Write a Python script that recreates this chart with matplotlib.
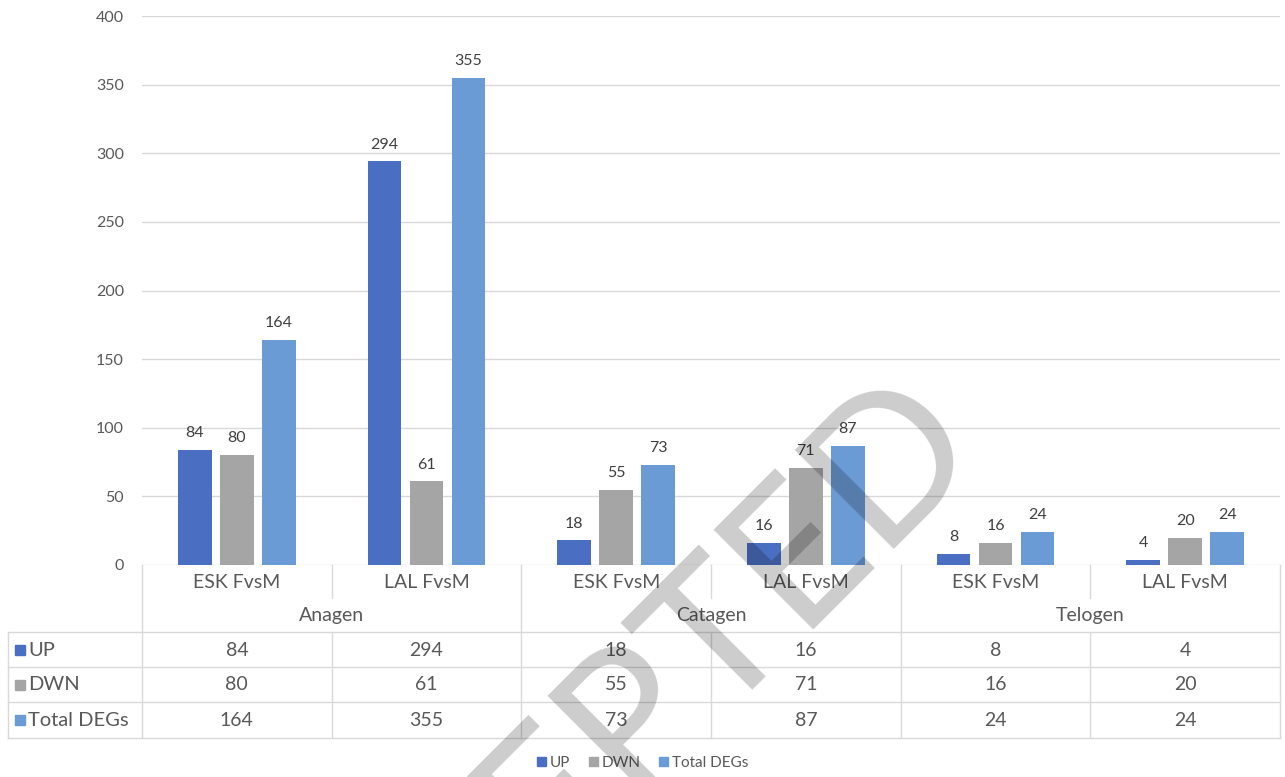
import numpy as np
import matplotlib.pyplot as plt
from matplotlib.patches import Patch
from matplotlib.transforms import blended_transform_factory

# DEG counts, female vs male, per hair-cycle stage
stages = ['Anagen', 'Catagen', 'Telogen']
comparisons = ['ESK FvsM', 'LAL FvsM', 'ESK FvsM', 'LAL FvsM', 'ESK FvsM', 'LAL FvsM']
series = ['UP', 'DWN', 'Total DEGs']
up = [84, 294, 18, 16, 8, 4]
dwn = [80, 61, 55, 71, 16, 20]
total = [164, 355, 73, 87, 24, 24]
yticks = [0, 50, 100, 150, 200, 250, 300, 350, 400]

colors = ['#4A6FC2', '#A5A5A5', '#6A9BD4']
text_color = '#595959'
label_color = '#404040'
line_color = '#D9D9D9'

plt.rcParams['font.family'] = ['Lato', 'DejaVu Sans']

W, H = 1285, 777
fig = plt.figure(figsize=(W / 100, H / 100), dpi=100)
ax_l, ax_b, ax_w, ax_h = 142, 212, 1138, 549
ax = fig.add_axes([ax_l / W, ax_b / H, ax_w / W, ax_h / H])

x = np.arange(len(comparisons))
width = 0.179
step = 0.2215
for i, (name, vals, c) in enumerate(zip(series, [up, dwn, total], colors)):
    pos = x + (i - 1) * step
    ax.bar(pos, vals, width, color=c, label=name, zorder=2)
    for p, v in zip(pos, vals):
        ax.annotate(str(v), (p, v), xytext=(0, 7), textcoords='offset points',
                    ha='center', va='bottom', fontsize=11.5, color=label_color)

ax.set_xlim(-0.5, len(comparisons) - 0.5)
ax.set_ylim(0, 400)
ax.set_yticks(yticks)
ax.set_xticks([])
ax.yaxis.grid(True, color=line_color, lw=1)
ax.set_axisbelow(True)
ax.tick_params(axis='y', length=0, pad=13, labelsize=11.5, labelcolor=text_color)
for s in ax.spines.values():
    s.set_visible(False)

# data table under the plot: x in data units, y in pixels below the axis
unit = ax_w / len(comparisons)
trans = blended_transform_factory(ax.transData, ax.transAxes)


def yp(px):
    return -px / ax_h


def xp(px):
    return -0.5 + (px - ax_l) / unit


left_col = xp(8)
row_lines = [67, 102, 137, 173]
row_mid = [85, 120, 155]
kw = dict(transform=trans, clip_on=False, color=line_color, lw=1)

for b in [-0.5, 1.5, 3.5, 5.5]:
    ax.plot([b, b], [yp(0), yp(173)], **kw)
for b in [0.5, 2.5, 4.5]:
    ax.plot([b, b], [yp(0), yp(33)], **kw)
    ax.plot([b, b], [yp(67), yp(173)], **kw)
ax.plot([left_col, left_col], [yp(67), yp(173)], **kw)
for r in row_lines:
    ax.plot([left_col, 5.5], [yp(r), yp(r)], **kw)

tkw = dict(transform=trans, ha='center', va='center', fontsize=14, color=text_color)
for xi, name in zip(x, comparisons):
    ax.text(xi, yp(17), name, **tkw)
for k, stage in enumerate(stages):
    ax.text(2 * k + 0.5, yp(50), stage, **tkw)

for name, vals, c, ym in zip(series, [up, dwn, total], colors, row_mid):
    ax.plot([xp(20)], [yp(ym)], marker='s', ms=7, color=c, transform=trans, clip_on=False)
    ax.text(xp(28), yp(ym), name, transform=trans, ha='left', va='center',
            fontsize=14.5, color=text_color)
    for xi, v in zip(x, vals):
        ax.text(xi, yp(ym), str(v), **tkw)

handles = [Patch(color=c, label=n) for n, c in zip(series, colors)]
fig.legend(handles=handles, loc='center', bbox_to_anchor=(0.5, 1 - 763 / H),
           ncol=3, frameon=False, fontsize=11, handlelength=0.6, handleheight=0.6,
           handletextpad=0.25, columnspacing=1.2, labelcolor=text_color)

# diagonal watermark
fig.text(988 / W, 1 - 455 / H, 'ACCEPTED', rotation=45, rotation_mode='anchor',
         ha='right', va='baseline', fontsize=142, fontweight='normal',
         color='black', alpha=0.2, zorder=10)

fig.savefig('out.png', dpi=100)
